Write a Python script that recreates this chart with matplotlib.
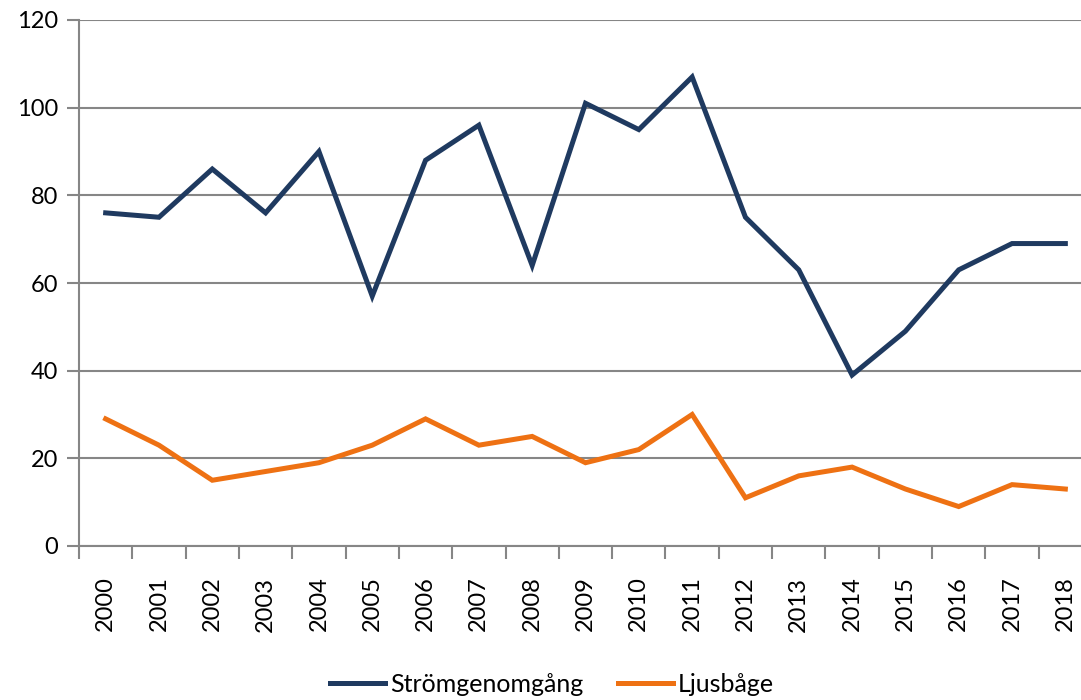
import matplotlib.pyplot as plt
import numpy as np

years = [str(y) for y in range(2000, 2019)]
stromgenomgang = [76, 75, 86, 76, 90, 57, 88, 96, 64, 101, 95, 107, 75, 63, 39, 49, 63, 69, 69]
ljusbage = [29, 23, 15, 17, 19, 23, 29, 23, 25, 19, 22, 30, 11, 16, 18, 13, 9, 14, 13]
yticks = [0, 20, 40, 60, 80, 100, 120]

plt.rcParams['font.family'] = ['Lato', 'DejaVu Sans']
W, H = 1081, 700
fig = plt.figure(figsize=(W / 100, H / 100), dpi=100)
# plot area runs past the right edge of the image, as in the original
left, right, top, bottom = 79, 1092, 20, 546
ax = fig.add_axes([left / W, 1 - bottom / H, (right - left) / W, (bottom - top) / H])

x = np.arange(len(years))
ax.plot(x, stromgenomgang, color='#1F3A60', lw=3.6, solid_joinstyle='miter', label='Strömgenomgång')
ax.plot(x, ljusbage, color='#EE7113', lw=3.6, solid_joinstyle='miter', label='Ljusbåge')

ax.set_xlim(-0.5, len(years) - 0.5)
ax.set_ylim(0, 120)
ax.set_yticks(yticks)
ax.yaxis.grid(True, color='#868686', lw=1.5)
ax.set_axisbelow(True)

ax.set_xticks(np.arange(len(years) + 1) - 0.5)
ax.set_xticklabels([])
ax.set_xticks(x, minor=True)
ax.set_xticklabels(years, minor=True, rotation=90, fontsize=17)
ax.tick_params(axis='x', which='major', length=9, width=1.5, color='#868686')
ax.tick_params(axis='x', which='minor', length=0, pad=22)
ax.tick_params(axis='y', length=9, width=1.5, color='#868686', labelsize=17, pad=6)

for s in ['top', 'right']:
    ax.spines[s].set_visible(False)
for s in ['left', 'bottom']:
    ax.spines[s].set_color('#868686')
    ax.spines[s].set_linewidth(1.5)

fig.legend(loc='center', bbox_to_anchor=(552 / W, 1 - 684 / H), ncol=2, frameon=False,
           fontsize=18, handlelength=2.2, handletextpad=0.2, columnspacing=1.4)

fig.savefig('out.png', dpi=100)
